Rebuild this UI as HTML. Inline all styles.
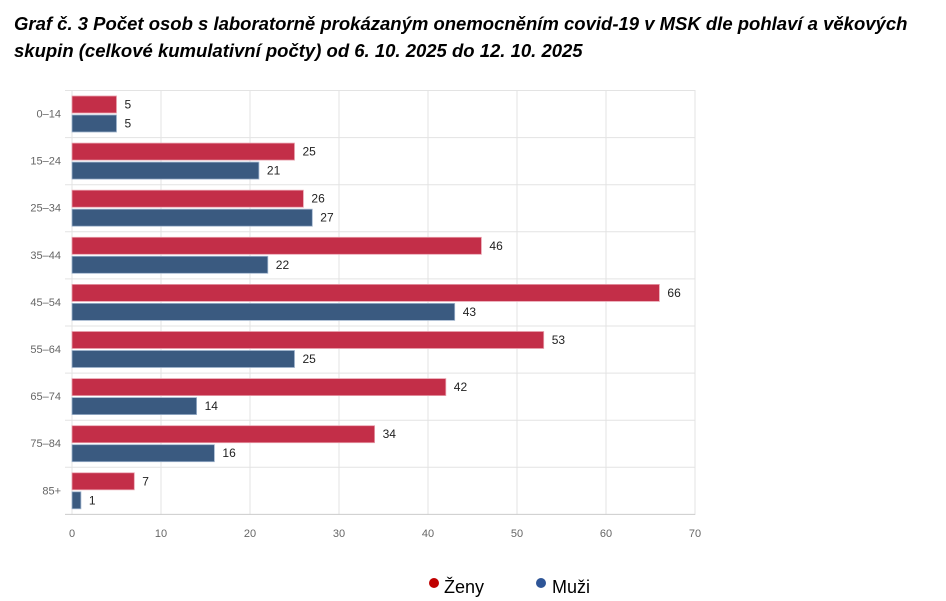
<!DOCTYPE html>
<html><head><meta charset="utf-8"><style>
body{margin:0;background:#fff;width:946px;height:601px;overflow:hidden;font-family:"Liberation Sans",sans-serif;position:relative}
.t{position:absolute;left:14px;top:10px;font-style:italic;font-weight:bold;font-size:18.5px;line-height:27px;color:#000;width:930px}
svg{position:absolute;left:0;top:0}
</style></head><body>
<div class="t">Graf č. 3 Počet osob s laboratorně prokázaným onemocněním covid-19 v MSK dle pohlaví a věkových skupin (celkové kumulativní počty) od 6. 10. 2025 do 12. 10. 2025</div>
<svg width="946" height="601" font-family="Liberation Sans, sans-serif">
<g stroke="#e3e3e3">
<line x1="72" y1="90" x2="72" y2="515"/><line x1="161" y1="90" x2="161" y2="515"/><line x1="250" y1="90" x2="250" y2="515"/><line x1="339" y1="90" x2="339" y2="515"/><line x1="428" y1="90" x2="428" y2="515"/><line x1="517" y1="90" x2="517" y2="515"/><line x1="606" y1="90" x2="606" y2="515"/><line x1="695" y1="90" x2="695" y2="515"/>
<line x1="65" y1="90.5" x2="695" y2="90.5"/><line x1="65" y1="137.6" x2="695" y2="137.6"/><line x1="65" y1="184.7" x2="695" y2="184.7"/><line x1="65" y1="231.8" x2="695" y2="231.8"/><line x1="65" y1="278.9" x2="695" y2="278.9"/><line x1="65" y1="326" x2="695" y2="326"/><line x1="65" y1="373.1" x2="695" y2="373.1"/><line x1="65" y1="420.2" x2="695" y2="420.2"/><line x1="65" y1="467.3" x2="695" y2="467.3"/>
</g>
<line x1="65" y1="514.4" x2="695" y2="514.4" stroke="#ccc"/>
<g font-size="11" fill="#666" text-anchor="middle">
<text x="72" y="537">0</text><text x="161" y="537">10</text><text x="250" y="537">20</text><text x="339" y="537">30</text><text x="428" y="537">40</text><text x="517" y="537">50</text><text x="606" y="537">60</text><text x="695" y="537">70</text>
</g>
<g font-size="11" fill="#666" text-anchor="end">
<text x="61" y="117.5">0–14</text><text x="61" y="164.6">15–24</text><text x="61" y="211.7">25–34</text><text x="61" y="258.8">35–44</text><text x="61" y="305.9">45–54</text><text x="61" y="353">55–64</text><text x="61" y="400.1">65–74</text><text x="61" y="447.2">75–84</text><text x="61" y="494.3">85+</text>
</g>
<g fill="#c32e48" stroke="#e8a0ad" stroke-width="0.8">
<rect x="72" y="96" width="44.5" height="17"/><rect x="72" y="143.1" width="222.5" height="17"/><rect x="72" y="190.2" width="231.4" height="17"/><rect x="72" y="237.3" width="409.4" height="17"/><rect x="72" y="284.4" width="587.4" height="17"/><rect x="72" y="331.5" width="471.7" height="17"/><rect x="72" y="378.6" width="373.8" height="17"/><rect x="72" y="425.7" width="302.6" height="17"/><rect x="72" y="472.8" width="62.3" height="17"/>
</g>
<g fill="#3a5a80" stroke="#9fb3cc" stroke-width="0.8">
<rect x="72" y="115" width="44.5" height="17"/><rect x="72" y="162.1" width="186.9" height="17"/><rect x="72" y="209.2" width="240.3" height="17"/><rect x="72" y="256.3" width="195.8" height="17"/><rect x="72" y="303.4" width="382.7" height="17"/><rect x="72" y="350.5" width="222.5" height="17"/><rect x="72" y="397.6" width="124.6" height="17"/><rect x="72" y="444.7" width="142.4" height="17"/><rect x="72" y="491.8" width="8.9" height="17"/>
</g>
<g font-size="12" fill="#222">
<text x="124.5" y="108.5">5</text><text x="302.5" y="155.6">25</text><text x="311.4" y="202.7">26</text><text x="489.4" y="249.8">46</text><text x="667.4" y="296.9">66</text><text x="551.7" y="344">53</text><text x="453.8" y="391.1">42</text><text x="382.6" y="438.2">34</text><text x="142.3" y="485.3">7</text>
<text x="124.5" y="127.5">5</text><text x="266.9" y="174.6">21</text><text x="320.3" y="221.7">27</text><text x="275.8" y="268.8">22</text><text x="462.7" y="315.9">43</text><text x="302.5" y="363">25</text><text x="204.6" y="410.1">14</text><text x="222.4" y="457.2">16</text><text x="88.9" y="504.3">1</text>
</g>
<circle cx="434" cy="583" r="5" fill="#c00000"/><text x="444" y="593" font-size="18" fill="#000">Ženy</text>
<circle cx="541" cy="583" r="5" fill="#2e5597"/><text x="552" y="593" font-size="18" fill="#000">Muži</text>
</svg>
</body></html>
